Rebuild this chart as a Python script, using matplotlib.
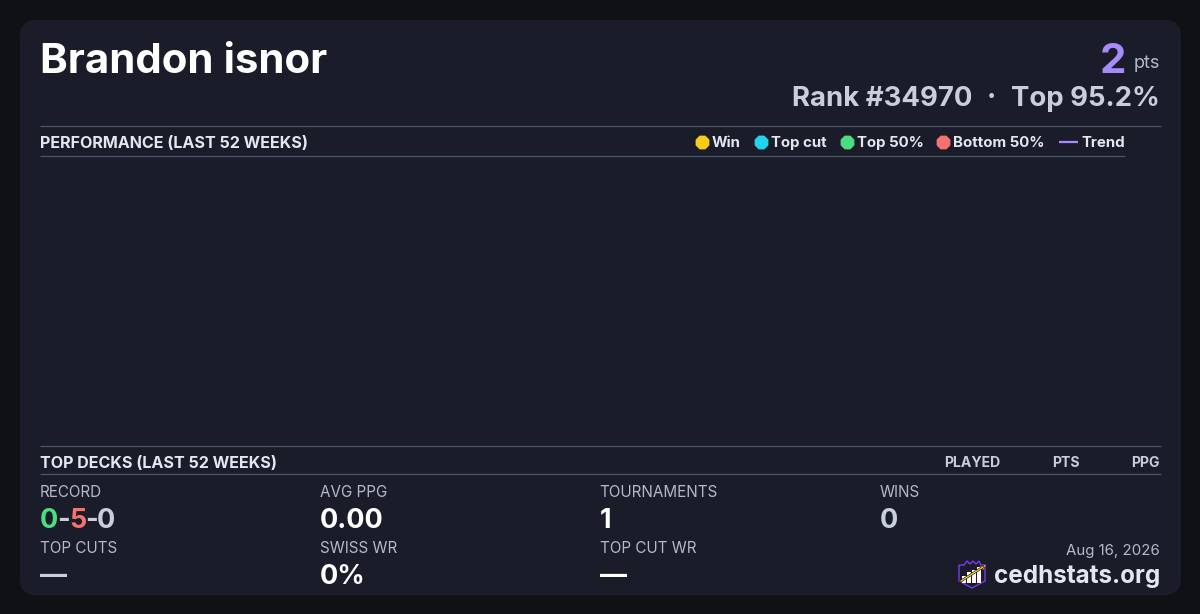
import matplotlib
matplotlib.use('Agg')
import matplotlib.pyplot as plt
from matplotlib.patches import FancyBboxPatch, Polygon, Rectangle

plt.rcParams['font.family'] = ['Inter', 'DejaVu Sans']

player = 'Brandon isnor'
points = '2'
rank_text = 'Rank #34970'
top_text = 'Top 95.2%'
date_text = 'Aug 16, 2026'
site = 'cedhstats.org'

legend_labels = ['Win', 'Top cut', 'Top 50%', 'Bottom 50%']
legend_colors = ['#facc15', '#22d3ee', '#4ade80', '#f87171']
legend_x = [702, 761, 847, 943]

columns = ['PLAYED', 'PTS', 'PPG']
columns_right = [1000, 1080, 1160]

stat_labels = ['AVG PPG', 'TOURNAMENTS', 'WINS', 'TOP CUTS', 'SWISS WR', 'TOP CUT WR']
stat_values = ['0.00', '1', '0', '—', '0%', '—']
stat_x = [320, 600, 880, 40, 320, 600]
stat_row = [0, 0, 0, 1, 1, 1]
stat_colors = ['white', 'white', '#c8cedb', '#c8cedb', 'white', 'white']

bg = '#0f1115'
card = '#1a1d29'
rule = '#475569'
muted = '#b4bac8'
light = '#e2e8f0'
purple = '#a78bfa'

fig = plt.figure(figsize=(12, 6.14), dpi=100, facecolor=bg)
ax = fig.add_axes([0, 0, 1, 1])
ax.set_xlim(0, 1200)
ax.set_ylim(614, 0)
ax.axis('off')

def txt(x, y, s, px, color, weight='normal', ha='left'):
    # sizes given in pixels, y is the baseline
    return ax.text(x, y, s, fontsize=px * 0.72, color=color, fontweight=weight, ha=ha, va='baseline')

def hline(x0, x1, y):
    ax.plot([x0, x1], [y, y], color=rule, lw=0.9, solid_capstyle='butt')

ax.add_patch(FancyBboxPatch((36, 36), 1129, 543, boxstyle='round,pad=16,rounding_size=16',
                            fc=card, ec='none'))

# header
txt(40, 73, player, 42, 'white', 'bold')
txt(1126.5, 73, points, 42, purple, 'bold', ha='right')
txt(1160, 68, 'pts', 18, muted, ha='right')
txt(1160, 106, top_text, 27.5, '#c8cedb', 'bold', ha='right')
txt(991, 106, '·', 28, '#c8cedb', 'bold', ha='center')
txt(972, 106, rank_text, 27.5, '#c8cedb', 'bold', ha='right')

# performance section
hline(40, 1160.5, 125.6)
hline(40, 1125, 155.6)
txt(40, 148, 'PERFORMANCE (LAST 52 WEEKS)', 16.1, light, 'bold')
for x, lab, c in zip(legend_x, legend_labels, legend_colors):
    ax.scatter([x], [142], s=115, color=c, marker='8', linewidths=0)
    txt(x + 10, 147, lab, 15, light, 'bold')
ax.plot([1059, 1078], [142, 142], color=purple, lw=1.6, solid_capstyle='butt')
txt(1081, 147, 'Trend', 15, light, 'bold')

# top decks section
hline(40, 1160.5, 445.6)
hline(40, 1160.5, 473.6)
txt(40, 468, 'TOP DECKS (LAST 52 WEEKS)', 16.1, light, 'bold')
for r, lab in zip(columns_right, columns):
    txt(r, 467, lab, 14, '#c8cedb', 'bold', ha='right')

# stats
label_y = [497, 553]
value_y = [528, 584]
txt(40, 497, 'RECORD', 15.2, muted)
x = 40
for part, c in zip(['0', '-', '5', '-', '0'], ['#4ade80', '#c8cedb', '#f87171', '#c8cedb', '#c8cedb']):
    t = txt(x, 528, part, 27, c, 'bold')
    x = t.get_window_extent(fig.canvas.get_renderer()).x1 - 1
for x, r, lab, val, c in zip(stat_x, stat_row, stat_labels, stat_values, stat_colors):
    txt(x - (0.6 if lab == 'TOURNAMENTS' else 0), label_y[r], lab, 15.2, muted)
    txt(x, value_y[r], val, 27, c, 'bold')

# footer
txt(1160, 555, date_text, 15, muted, ha='right')
txt(1160, 583, site, 24.2, light, 'bold', ha='right')

# logo
ax.add_patch(Polygon([(959, 565), (964, 565), (967, 561), (970, 564), (973, 561), (976, 564),
                      (979, 561), (981, 565), (985, 565), (985, 581), (972, 588), (959, 581)],
                     closed=True, fc='none', ec='#7c3aed', lw=1.0))
for bx, by in zip([962, 967, 972, 977], [576, 572, 570, 567]):
    ax.add_patch(Rectangle((bx, by), 4, 583 - by, fc='white', ec='none'))
ax.plot([961, 983], [581, 567], color='black', lw=1.8)
ax.plot([961, 983], [581, 567], color='#facc15', lw=1.0)
ax.add_patch(Polygon([(986, 565), (980, 566.5), (983, 570)], closed=True, fc='#facc15', ec='none'))

fig.savefig('out.png', dpi=100, facecolor=bg)
